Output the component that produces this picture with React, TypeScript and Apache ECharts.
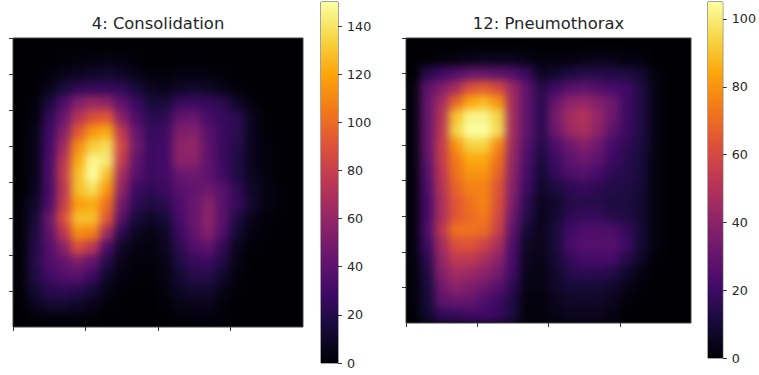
import React, { useEffect, useRef } from "react";
import * as echarts from "echarts";

const inferno = ["#000004", "#160b39", "#420a68", "#6a176e", "#932667", "#bc3754", "#dd513a", "#f37819", "#fca50a", "#f6d746", "#fcffa4"];

const titles = ["4: Consolidation", "12: Pneumothorax"];
const colorbarMax = [150, 105];
const colorbarTicksLeft = [0, 20, 40, 60, 80, 100, 120, 140];
const colorbarTicksRight = [0, 20, 40, 60, 80, 100];
const imageTicksX = [0, 10, 20, 30];
const imageTicksY = [0, 5, 10, 15, 20, 25, 30, 35];

const consolidation = [
  [0,0,0,0,0,0,0,0,0,0,0,0,0,0,0,0,0,0,0,0],
  [0,0,0,1,2,3,4,3,1,0,0,0,0,0,0,0,0,0,0,0],
  [0,0,2,5,8,10,12,10,5,2,2,3,3,3,1,0,0,0,0,0],
  [0,0,6,16,24,26,26,24,16,8,6,10,12,10,5,2,0,0,0,0],
  [0,2,16,34,54,62,58,40,28,16,15,26,28,26,22,10,3,0,0,0],
  [0,3,24,44,72,88,92,56,34,22,24,42,44,32,26,22,7,1,0,0],
  [0,5,28,54,92,115,122,76,44,26,28,52,54,38,27,22,7,1,0,0],
  [0,6,30,64,112,132,138,84,48,28,30,58,60,40,27,20,7,2,0,0],
  [0,6,32,74,122,147,142,78,42,28,30,56,56,40,27,18,7,2,0,0],
  [0,6,32,78,128,150,128,66,38,28,30,44,46,40,30,18,8,3,0,0],
  [0,7,32,74,128,138,116,58,28,24,28,38,42,46,38,24,10,4,1,0],
  [1,11,34,78,118,122,102,48,24,18,22,34,44,56,38,26,12,4,1,0],
  [1,14,44,88,128,128,92,38,16,10,15,32,44,58,38,18,6,2,0,0],
  [1,17,40,74,112,108,64,22,8,5,10,28,42,54,34,13,3,1,0,0],
  [1,19,36,56,88,74,34,10,4,3,8,22,36,40,24,7,1,0,0,0],
  [1,20,35,42,52,42,20,6,2,2,5,18,26,28,18,4,0,0,0,0],
  [1,18,29,36,38,28,11,3,1,1,4,13,20,20,11,2,0,0,0,0],
  [1,13,21,24,21,14,5,1,0,0,3,9,12,12,5,1,0,0,0,0],
  [0,7,12,12,10,6,2,0,0,0,1,5,6,6,2,0,0,0,0,0],
  [0,1,2,2,2,1,0,0,0,0,0,1,2,2,1,0,0,0,0,0],
];

const pneumothorax = [
  [0,0,0,0,0,0,0,0,0,0,0,0,0,0,0,0,0,0,0,0],
  [0,0,2,2,4,5,5,5,3,2,2,2,3,4,4,2,2,0,0,0],
  [0,14,20,25,30,30,28,25,18,6,8,12,14,14,13,12,9,2,0,0],
  [2,28,36,46,62,66,60,44,28,14,20,26,28,25,22,20,13,3,0,0],
  [2,30,46,68,84,88,80,46,28,16,30,40,42,38,32,20,13,3,0,0],
  [2,30,50,90,102,102,94,46,28,16,34,46,50,42,32,20,13,3,0,0],
  [2,30,52,94,105,105,96,46,28,16,32,44,48,40,28,19,13,3,0,0],
  [2,30,54,80,94,94,78,44,26,14,24,32,38,32,22,17,12,3,0,0],
  [2,28,54,74,85,85,72,42,24,12,20,28,32,28,20,15,11,2,0,0],
  [2,26,52,72,80,80,68,40,22,10,18,24,26,22,16,14,11,2,0,0],
  [2,24,50,68,76,76,64,38,20,8,12,16,18,16,14,13,10,2,0,0],
  [2,22,48,64,72,76,62,36,16,6,8,14,15,14,12,12,9,2,0,0],
  [2,22,48,64,70,74,60,32,14,5,9,16,18,18,14,13,9,2,0,0],
  [2,24,52,72,72,70,56,28,10,5,11,20,24,24,24,18,10,2,0,0],
  [2,20,46,62,64,58,48,24,7,5,11,22,26,26,26,20,10,2,0,0],
  [2,16,42,54,54,48,40,22,5,4,10,18,22,22,22,14,7,1,0,0],
  [1,13,38,46,44,40,34,20,4,3,8,14,16,16,14,8,3,0,0,0],
  [1,11,32,40,36,32,26,16,3,3,7,10,10,10,8,4,1,0,0,0],
  [1,10,28,30,30,24,20,12,2,2,5,7,7,7,5,1,0,0,0,0],
  [0,8,16,18,20,20,18,12,1,2,4,5,5,5,3,0,0,0,0,0],
];

const FONT = "DejaVu Sans";
const INK = "#262626";

function heatOption(matrix: number[][], max: number) {
  const cells: number[][] = [];
  matrix.forEach((row, y) => row.forEach((v, x) => cells.push([x, y, v])));
  const cats = matrix[0].map((_, i) => String(i));
  const rows = matrix.map((_, i) => String(i));
  return {
    animation: false,
    backgroundColor: "#000004",
    grid: { left: 0, right: 0, top: 0, bottom: 0 },
    xAxis: { type: "category", data: cats, show: false },
    yAxis: { type: "category", data: rows, show: false, inverse: true },
    visualMap: { show: false, min: 0, max, inRange: { color: inferno }, seriesIndex: 0, dimension: 2 },
    series: [{ type: "heatmap", data: cells, progressive: 0, silent: true, itemStyle: { borderWidth: 0 } }],
  };
}

const stops = inferno.map((color, i) => ({ offset: i / (inferno.length - 1), color }));

function frameOption() {
  const panels = [
    { left: 13, top: 38, width: 290, height: 289 },
    { left: 406, top: 38, width: 285, height: 285 },
  ];
  const bars = [
    { left: 321, top: 2, width: 17, height: 361 },
    { left: 708, top: 2, width: 18, height: 356 },
  ];
  const tickSets = [colorbarTicksLeft, colorbarTicksRight];
  const grid: any[] = [];
  const xAxis: any[] = [];
  const yAxis: any[] = [];
  const series: any[] = [];
  const title: any[] = [];
  panels.forEach((p, i) => {
    grid.push({ ...p, show: true, backgroundColor: "transparent", borderColor: "#444", borderWidth: 1 });
    xAxis.push({
      type: "value", gridIndex: grid.length - 1, min: 0, max: 40, position: "bottom",
      axisLine: { show: false, onZero: false }, splitLine: { show: false }, axisLabel: { show: false },
      axisTick: { show: true, length: 4, lineStyle: { color: "#333" }, customValues: imageTicksX },
    });
    yAxis.push({
      type: "value", gridIndex: grid.length - 1, min: 0, max: 40, inverse: true, position: "left",
      axisLine: { show: false, onZero: false }, splitLine: { show: false }, axisLabel: { show: false },
      axisTick: { show: true, length: 4, lineStyle: { color: "#333" }, customValues: imageTicksY },
    });
    title.push({
      text: titles[i], left: p.left + p.width / 2, top: 15, textAlign: "center", padding: 0,
      textStyle: { fontFamily: FONT, fontSize: 16.4, fontWeight: "normal", color: INK },
    });
  });
  bars.forEach((b, i) => {
    grid.push({ ...b, show: true, backgroundColor: "transparent", borderColor: "#444", borderWidth: 1 });
    const g = grid.length - 1;
    xAxis.push({ type: "category", gridIndex: g, data: [titles[i]], show: false });
    yAxis.push({
      type: "value", gridIndex: g, position: "right", min: 0, max: colorbarMax[i],
      axisLine: { show: false }, splitLine: { show: false },
      axisTick: { show: true, length: 4, lineStyle: { color: "#333" }, customValues: tickSets[i] },
      axisLabel: { show: true, margin: 9, fontFamily: FONT, fontSize: 12.7, color: INK, customValues: tickSets[i] },
    });
    series.push({
      type: "bar", xAxisIndex: g, yAxisIndex: g, data: [colorbarMax[i]], barWidth: "100%", silent: true,
      itemStyle: { color: new echarts.graphic.LinearGradient(0, 1, 0, 0, stops) },
    });
  });
  return { animation: false, backgroundColor: "transparent", title, grid, xAxis, yAxis, series };
}

function Heat({ matrix, max, box }: { matrix: number[][]; max: number; box: { left: number; top: number; width: number; height: number } }) {
  const ref = useRef<HTMLDivElement>(null);
  useEffect(() => {
    const chart = echarts.init(ref.current!, undefined, { renderer: "svg" });
    chart.setOption(heatOption(matrix, max));
    return () => chart.dispose();
  }, []);
  return (
    <div style={{ position: "absolute", ...box, overflow: "hidden", background: "#000004" }}>
      <div ref={ref} style={{ width: box.width, height: box.height, filter: "blur(4px)" }} />
    </div>
  );
}

export default function App() {
  const ref = useRef<HTMLDivElement>(null);
  useEffect(() => {
    const chart = echarts.init(ref.current!, undefined, { renderer: "svg" });
    chart.setOption(frameOption());
    return () => chart.dispose();
  }, []);
  return (
    <div style={{ position: "absolute", left: 0, top: 0, width: 759, height: 375, background: "#fff" }}>
      <Heat matrix={consolidation} max={colorbarMax[0]} box={{ left: 13, top: 38, width: 290, height: 289 }} />
      <Heat matrix={pneumothorax} max={colorbarMax[1]} box={{ left: 406, top: 38, width: 285, height: 285 }} />
      <div ref={ref} style={{ position: "absolute", left: 0, top: 0, width: 759, height: 375 }} />
    </div>
  );
}
